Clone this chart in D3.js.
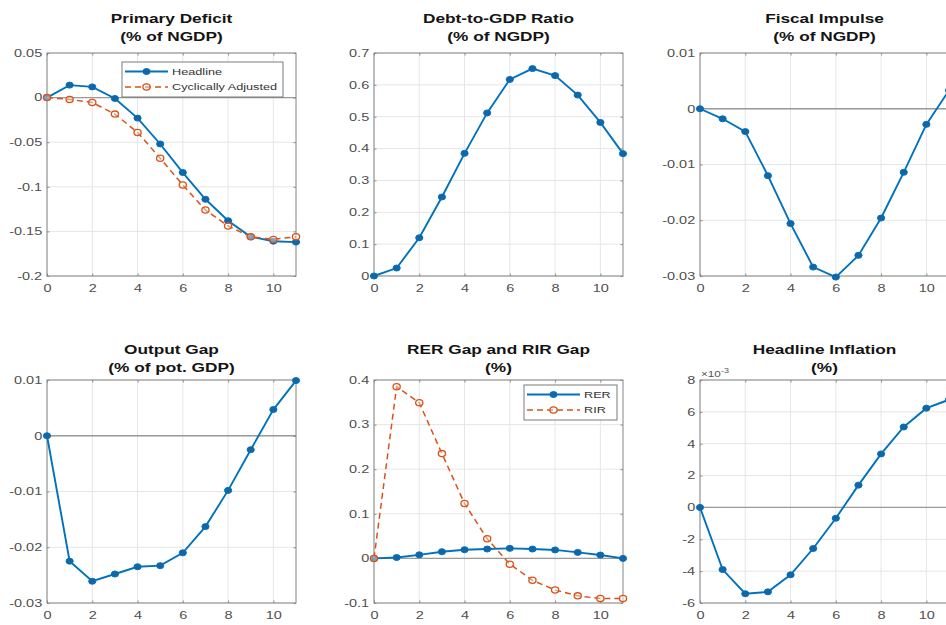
<!DOCTYPE html>
<html><head><meta charset="utf-8">
<script src="https://cdn.jsdelivr.net/npm/d3@7"></script>
<style>body{margin:0;background:#fff} svg{display:block}</style>
</head><body>
<svg id="chart" width="946" height="625"></svg>
<script>
// ---- data ----
const steps = [0,1,2,3,4,5,6,7,8,9,10,11];
const xTicks = [0,2,4,6,8,10];

const primaryHeadline = [0,0.014,0.012,-0.001,-0.023,-0.052,-0.084,-0.114,-0.138,-0.156,-0.161,-0.162];
const primaryCyclical = [0,-0.002,-0.0055,-0.0185,-0.039,-0.068,-0.098,-0.126,-0.144,-0.156,-0.159,-0.156];
const primaryTicks = [0.05,0,-0.05,-0.1,-0.15,-0.2];

const debtRatio = [0,0.025,0.12,0.248,0.385,0.512,0.617,0.651,0.629,0.568,0.482,0.384];
const debtTicks = [0,0.1,0.2,0.3,0.4,0.5,0.6,0.7];

const fiscalImpulse = [0,-0.0018,-0.0041,-0.012,-0.0206,-0.0284,-0.0302,-0.0263,-0.0196,-0.0114,-0.0028,0.0033];
const fiscalTicks = [0.01,0,-0.01,-0.02,-0.03];

const outputGap = [0,-0.0225,-0.0261,-0.0248,-0.0235,-0.0233,-0.021,-0.0163,-0.0098,-0.0025,0.0047,0.0099];
const outputTicks = [0.01,0,-0.01,-0.02,-0.03];

const rerGap = [0,0.002,0.008,0.015,0.0195,0.021,0.0225,0.021,0.019,0.0135,0.0075,0];
const rirGap = [0,0.385,0.349,0.235,0.123,0.044,-0.013,-0.049,-0.071,-0.084,-0.09,-0.09];
const rateTicks = [-0.1,0,0.1,0.2,0.3,0.4];

const headlineInflation = [0,-0.0039,-0.00542,-0.0053,-0.00423,-0.00258,-0.00068,0.0014,0.00336,0.00505,0.00623,0.00676];
const inflationTicks = [-0.006,-0.004,-0.002,0,0.002,0.004,0.006,0.008];

// ---- layout / style ----
const svg = d3.select('#chart');
const SX = 1.38;
const FONT = '"Liberation Sans", Arial, Helvetica, sans-serif';
const colLefts = [47, 374, 700], rowTops = [53, 380], PW = 249, PH = 223;
const titleOffsets = [-30, -26];
const BLUE = '#0072BD', ORANGE = '#D95319';
const plain = v => String(+v.toFixed(6));
const milli = v => String(Math.round(v * 1000));

const panels = [
  {row:0,col:0,title:['Primary Deficit','(% of NGDP)'],domain:[-0.2,0.05],ticks:primaryTicks,fmt:plain,
   series:[{name:'Headline',values:primaryHeadline,kind:'solid'},{name:'Cyclically Adjusted',values:primaryCyclical,kind:'dashed'}],
   legend:{x:122,y:62,w:161,h:35,sample:43}},
  {row:0,col:1,title:['Debt-to-GDP Ratio','(% of NGDP)'],domain:[0,0.7],ticks:debtTicks,fmt:plain,
   series:[{name:'Debt',values:debtRatio,kind:'solid'}]},
  {row:0,col:2,title:['Fiscal Impulse','(% of NGDP)'],domain:[-0.03,0.01],ticks:fiscalTicks,fmt:plain,
   series:[{name:'Impulse',values:fiscalImpulse,kind:'solid'}]},
  {row:1,col:0,title:['Output Gap','(% of pot. GDP)'],domain:[-0.03,0.01],ticks:outputTicks,fmt:plain,
   series:[{name:'Gap',values:outputGap,kind:'solid'}]},
  {row:1,col:1,title:['RER Gap and RIR Gap','(%)'],domain:[-0.1,0.4],ticks:rateTicks,fmt:plain,
   series:[{name:'RER',values:rerGap,kind:'solid'},{name:'RIR',values:rirGap,kind:'dashed'}],
   legend:{x:524,y:385,w:93,h:35,sample:53}},
  {row:1,col:2,title:['Headline Inflation','(%)'],domain:[-0.006,0.008],ticks:inflationTicks,fmt:milli,exponent:true,
   series:[{name:'Inflation',values:headlineInflation,kind:'solid'}]}
];

function stretchText(sel){
  sel.each(function(){
    const t = d3.select(this);
    t.attr('transform', (t.attr('transform')||'') + ` scale(${SX},1)`);
  });
}

function drawMarker(g, cx, cy, kind){
  if (kind === 'solid') {
    g.append('ellipse').attr('cx',cx).attr('cy',cy).attr('rx',3.6).attr('ry',3.0)
      .attr('fill','#1565a3').attr('stroke',BLUE).attr('stroke-width',1);
  } else {
    g.append('ellipse').attr('cx',cx).attr('cy',cy).attr('rx',3.6).attr('ry',3.1)
      .attr('fill','#fff').attr('fill-opacity',0.4).attr('stroke',ORANGE).attr('stroke-width',1.3);
  }
}

panels.forEach((p, i) => {
  const L = colLefts[p.col], T = rowTops[p.row];
  const x = d3.scaleLinear().domain([0, 11]).range([L, L + PW]);
  const y = d3.scaleLinear().domain(p.domain).range([T + PH, T]);
  const g = svg.append('g');

  g.append('rect').attr('x',L).attr('y',T).attr('width',PW).attr('height',PH).attr('fill','#fff');

  // grid
  g.selectAll('.gx').data(xTicks).join('line')
    .attr('x1',d=>x(d)).attr('x2',d=>x(d)).attr('y1',T).attr('y2',T+PH)
    .attr('stroke','#e6e6e6').attr('stroke-width',1);
  g.selectAll('.gy').data(p.ticks).join('line')
    .attr('x1',L).attr('x2',L+PW).attr('y1',d=>y(d)).attr('y2',d=>y(d))
    .attr('stroke','#e6e6e6').attr('stroke-width',1);

  // zero reference line
  if (p.domain[0] < 0 && p.domain[1] > 0) {
    g.append('line').attr('x1',L).attr('x2',L+PW).attr('y1',y(0)).attr('y2',y(0))
      .attr('stroke','#9a9a9a').attr('stroke-width',1.3);
  }

  // axes (labels + inward ticks)
  const ax = g.append('g').attr('transform',`translate(0,${T+PH})`)
    .call(d3.axisBottom(x).tickValues(xTicks).tickFormat(d=>String(d)).tickSizeInner(-2.5).tickSizeOuter(0).tickPadding(9));
  const ay = g.append('g').attr('transform',`translate(${L},0)`)
    .call(d3.axisLeft(y).tickValues(p.ticks).tickFormat(p.fmt).tickSizeInner(-2.5).tickSizeOuter(0).tickPadding(3.5));
  const axTop = g.append('g').attr('transform',`translate(0,${T})`)
    .call(d3.axisTop(x).tickValues(xTicks).tickFormat('').tickSizeInner(-2.5).tickSizeOuter(0));
  const ayR = g.append('g').attr('transform',`translate(${L+PW},0)`)
    .call(d3.axisRight(y).tickValues(p.ticks).tickFormat('').tickSizeInner(-2.5).tickSizeOuter(0));
  [ax, ay, axTop, ayR].forEach(a => {
    a.select('.domain').remove();
    a.selectAll('line').attr('stroke','#777').attr('stroke-width',0.8);
    a.selectAll('text').attr('font-family',FONT).attr('font-size',10.5).attr('fill','#4f4f4f');
  });
  ax.selectAll('text').call(stretchText);
  ay.selectAll('text').call(stretchText);

  // box
  g.append('rect').attr('x',L).attr('y',T).attr('width',PW).attr('height',PH)
    .attr('fill','none').attr('stroke','#858585').attr('stroke-width',1);

  // series
  const clipId = 'clip' + i;
  svg.append('clipPath').attr('id',clipId).append('rect')
    .attr('x',L-5).attr('y',T-5).attr('width',PW+10).attr('height',PH+10);
  const sg = g.append('g').attr('clip-path',`url(#${clipId})`);
  const lineGen = d3.line().x((d,j)=>x(steps[j])).y(d=>y(d));
  p.series.forEach(s => {
    sg.append('path').datum(s.values).attr('d',lineGen).attr('fill','none')
      .attr('stroke', s.kind==='solid'?BLUE:ORANGE)
      .attr('stroke-width', s.kind==='solid'?1.9:1.5)
      .attr('stroke-dasharray', s.kind==='solid'?null:'6,4');
    s.values.forEach((v,j)=> drawMarker(sg, x(steps[j]), y(v), s.kind));
  });

  // title
  const cx = L + PW/2;
  const off = titleOffsets[p.row];
  p.title.forEach((t, k) => {
    g.append('text').attr('transform',`translate(${cx},${T + off + k*18}) scale(${SX},1)`)
      .attr('text-anchor','middle').attr('font-family',FONT).attr('font-weight','bold')
      .attr('font-size',12.5).attr('fill','#141414').text(t);
  });

  // exponent label
  if (p.exponent) {
    const et = g.append('text').attr('transform',`translate(${L+1},${T-3}) scale(${SX},1)`)
      .attr('font-family',FONT).attr('font-size',8.5).attr('fill','#555');
    et.append('tspan').text('\u00d710');
    et.append('tspan').attr('dy',-4).attr('font-size',6.5).text('-3');
  }

  // legend
  if (p.legend) {
    const lg = p.legend;
    g.append('rect').attr('x',lg.x).attr('y',lg.y).attr('width',lg.w).attr('height',lg.h)
      .attr('fill','#fff').attr('stroke','#6e6e6e').attr('stroke-width',0.9);
    p.series.forEach((s, k) => {
      const ry = lg.y + 9.5 + k*15.5;
      const x1 = lg.x + 3, x2 = lg.x + 3 + lg.sample;
      g.append('line').attr('x1',x1).attr('x2',x2).attr('y1',ry).attr('y2',ry)
        .attr('stroke', s.kind==='solid'?BLUE:ORANGE)
        .attr('stroke-width', s.kind==='solid'?1.9:1.5)
        .attr('stroke-dasharray', s.kind==='solid'?null:'6,4');
      drawMarker(g, (x1+x2)/2, ry, s.kind);
      g.append('text').attr('transform',`translate(${x2+4},${ry+3.3}) scale(${SX},1)`)
        .attr('font-family',FONT).attr('font-size',9.2).attr('fill','#333').text(s.name);
    });
  }
});
</script>
</body></html>
